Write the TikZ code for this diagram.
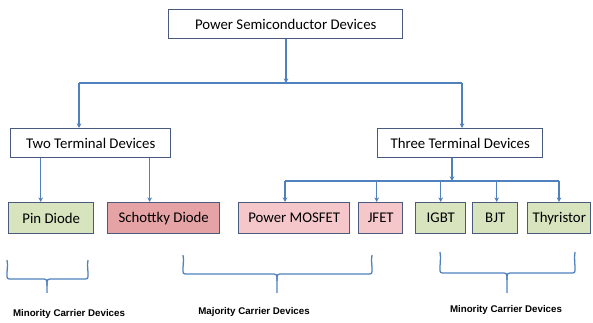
\documentclass[tikz,border=0pt]{standalone}
\usepackage{fontspec}
\setmainfont{Carlito}
\newfontfamily\labfont{Liberation Sans}
\usetikzlibrary{arrows.meta}
\definecolor{lineblue}{HTML}{4F81BD}
\definecolor{boxborder}{HTML}{4A5A7E}
\definecolor{greenfill}{HTML}{D7E4BD}
\definecolor{redfill}{HTML}{E6A3A5}
\definecolor{pinkfill}{HTML}{F5C7CB}
\tikzset{
  box/.style={draw=boxborder, line width=1.1pt, inner sep=0pt, anchor=north west, font=\fontsize{11.1}{13}\selectfont},
  arr/.style={draw=lineblue, line width=0.95pt, -{Stealth[length=3.5pt,width=3.5pt]}},
  conn/.style={draw=lineblue, line width=0.95pt},
  bracepath/.style={draw=lineblue, line width=0.95pt},
  lab/.style={font=\labfont\bfseries\fontsize{7.3}{8.5}\selectfont}
}
\newcommand{\mybrace}[6]{%
  \draw[bracepath] (#1,#3) .. controls (#1+1,#3+6) and (#1,#4-10) .. (#1,#4-5) .. controls (#1,#4) .. (#1+5,#4) -- (#5-6,#4) .. controls (#5,#4) .. (#5,#4+7) -- (#5,#6);
  \draw[bracepath] (#2,#3) .. controls (#2-1,#3+6) and (#2,#4-10) .. (#2,#4-5) .. controls (#2,#4) .. (#2-5,#4) -- (#5+6,#4) .. controls (#5,#4) .. (#5,#4+7);
}
\begin{document}
\begin{tikzpicture}[x=0.75pt,y=-0.75pt]
\useasboundingbox (0,0) rectangle (593,323);
% boxes
\node[box, minimum width=175.5pt, minimum height=21.75pt] (top) at (168,9) {Power Semiconductor Devices};
\node[box, minimum width=120pt, minimum height=21.75pt] (two) at (10,128) {Two Terminal Devices};
\node[box, minimum width=123.75pt, minimum height=21.75pt] (three) at (377,128) {Three Terminal Devices};
\node[box, fill=greenfill, minimum width=63.75pt, minimum height=23.25pt] (pin) at (8,202) {Pin Diode};
\node[box, fill=redfill, minimum width=84pt, minimum height=23.25pt] (sch) at (107,202) {Schottky Diode};
\node[box, fill=pinkfill, minimum width=83.25pt, minimum height=23.25pt] (mos) at (238,202) {Power MOSFET};
\node[box, fill=pinkfill, minimum width=33pt, minimum height=23.25pt] (jfet) at (358,202) {JFET};
\node[box, fill=greenfill, minimum width=37.5pt, minimum height=23.25pt] (igbt) at (415,202) {IGBT};
\node[box, fill=greenfill, minimum width=33.75pt, minimum height=23.25pt] (bjt) at (472,202) {BJT};
\node[box, fill=greenfill, minimum width=47.25pt, minimum height=23.25pt] (thy) at (527,202) {Thyristor};
% bus coordinates
\coordinate (b1) at (286,83);
\coordinate (b1l) at (79,83);
\coordinate (b1r) at (462,83);
\coordinate (b2) at (452,181);
\coordinate (b2l) at (285,181);
\coordinate (b2r) at (559,181);
% level 1
\draw[arr] (top.south -| b1) -- (b1);
\draw[conn] (b1l) -- (b1r);
\draw[arr] (b1l) -- (b1l |- two.north);
\draw[arr] (b1r) -- (b1r |- three.north);
% two terminal
\draw[arr] ([xshift=-7.875pt]pin.north |- two.south) -- ([xshift=-7.875pt]pin.north);
\draw[arr] ([xshift=-10.5pt]sch.north |- two.south) -- ([xshift=-10.5pt]sch.north);
% three terminal
\draw[arr] (three.south -| b2) -- (b2);
\draw[conn] (b2l) -- (b2r);
\draw[arr] (b2l) -- (b2l |- mos.north);
\draw[arr] ([xshift=-3pt]jfet.north |- b2) -- ([xshift=-3pt]jfet.north);
\draw[arr] (igbt.north |- b2) -- (igbt.north);
\draw[arr] ([xshift=1.1pt]bjt.north |- b2) -- ([xshift=1.1pt]bjt.north);
\draw[arr] (b2r) -- (b2r |- thy.north);
% braces
\mybrace{7}{88}{260}{279}{47}{293}
\mybrace{183}{372}{255}{274}{277}{293}
\mybrace{440}{575}{252}{273}{507}{293}
\node[lab] (l1) at (69,314) {Minority Carrier Devices};
\node[lab] (l2) at (254,312) {Majority Carrier Devices};
\node[lab] (l3) at (506,310) {Minority Carrier Devices};
\end{tikzpicture}
\end{document}
